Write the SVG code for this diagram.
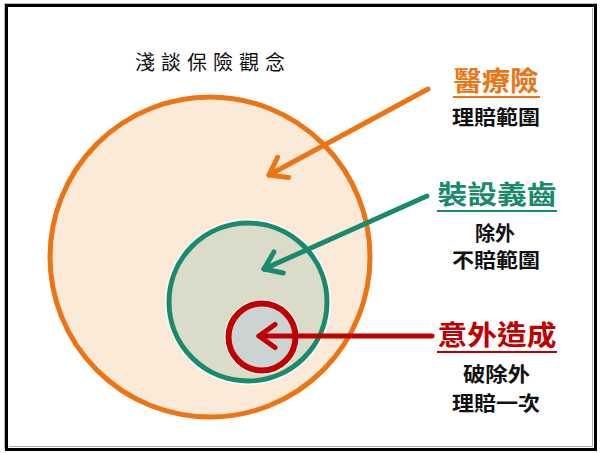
<svg xmlns="http://www.w3.org/2000/svg" width="600" height="453" viewBox="0 0 600 453">
<style>
.lbl{font-family:"Noto Sans CJK TC","Noto Sans CJK SC",sans-serif;font-weight:bold;text-anchor:middle}
.sub{font-size:20px;fill:#111}
.title{font-family:"Noto Sans CJK TC","Noto Sans CJK SC",sans-serif;font-size:20px;font-weight:400;fill:#111}
.halo{fill:none;stroke:#ffffff;stroke-width:8}
</style>
<defs>
<marker id="hO" markerUnits="userSpaceOnUse" viewBox="-22 -16 26 32" markerWidth="26" markerHeight="32" refX="0" refY="0" orient="auto" overflow="visible">
<path d="M-16,-11.5 L0,0 L-16,11.5" fill="none" stroke="#EC7414" stroke-width="5" stroke-linecap="round" stroke-linejoin="round"/>
</marker>
<marker id="hG" markerUnits="userSpaceOnUse" viewBox="-22 -16 26 32" markerWidth="26" markerHeight="32" refX="0" refY="0" orient="auto" overflow="visible">
<path d="M-16,-11.5 L0,0 L-16,11.5" fill="none" stroke="#1A8A6C" stroke-width="5" stroke-linecap="round" stroke-linejoin="round"/>
</marker>
<marker id="hR" markerUnits="userSpaceOnUse" viewBox="-22 -16 26 32" markerWidth="26" markerHeight="32" refX="0" refY="0" orient="auto" overflow="visible">
<path d="M-16,-11.5 L0,0 L-16,11.5" fill="none" stroke="#C00000" stroke-width="5" stroke-linecap="round" stroke-linejoin="round"/>
</marker>
</defs>
<rect x="0" y="0" width="600" height="453" fill="#ffffff"/>
<g id="frame">
<path d="M4.5,449 V3.5 H597" fill="none" stroke="#bbbbbb" stroke-width="1"/>
<rect x="6.5" y="5.5" width="589" height="444" fill="none" stroke="#000000" stroke-width="3"/>
<path d="M592.5,8 V446.5 H9" fill="none" stroke="#aaaaaa" stroke-width="1"/>
</g>
<g id="title"><text class="title" x="135" y="69.5" textLength="150" lengthAdjust="spacing">淺談保險觀念</text></g>
<g id="medical">
<circle class="halo" cx="210" cy="257" r="160"/>
<circle cx="210" cy="257" r="160" fill="#FCEAD9" stroke="#EC7414" stroke-width="5"/>
</g>
<g id="denture">
<circle class="halo" cx="248" cy="302" r="79"/>
<circle cx="248" cy="302" r="79" fill="#DBDBC9" stroke="#1A8A6C" stroke-width="5"/>
</g>
<g id="accident">
<circle class="halo" cx="262" cy="337" r="33.5"/>
<circle cx="262" cy="337" r="33.5" fill="#CBD3D3" stroke="#C00000" stroke-width="6"/>
</g>
<g id="connectors" fill="none" stroke-width="5" stroke-linecap="round">
<line x1="428" y1="89" x2="269" y2="175" stroke="#EC7414" marker-end="url(#hO)"/>
<line x1="427" y1="196" x2="264" y2="269" stroke="#1A8A6C" marker-end="url(#hG)"/>
<line x1="432" y1="336" x2="259" y2="336" stroke="#C00000" marker-end="url(#hR)"/>
</g>
<g id="label-medical">
<text class="lbl" x="496" y="91" font-size="27" fill="#EC7414" textLength="85" lengthAdjust="spacingAndGlyphs">醫療險</text>
<line x1="453" y1="97" x2="540" y2="97" stroke="#EC7414" stroke-width="2"/>
<text class="lbl sub" x="496" y="125" textLength="88" lengthAdjust="spacingAndGlyphs">理賠範圍</text>
</g>
<g id="label-denture">
<text class="lbl" x="497" y="203.5" font-size="26" fill="#1A8A6C" textLength="119" lengthAdjust="spacingAndGlyphs">裝設義齒</text>
<line x1="437" y1="211" x2="557" y2="211" stroke="#1A8A6C" stroke-width="2"/>
<text class="lbl sub" x="495" y="241" textLength="40" lengthAdjust="spacingAndGlyphs">除外</text>
<text class="lbl sub" x="496" y="268" textLength="88" lengthAdjust="spacingAndGlyphs">不賠範圍</text>
</g>
<g id="label-accident">
<text class="lbl" x="497" y="345" font-size="27" fill="#C00000" textLength="119" lengthAdjust="spacingAndGlyphs">意外造成</text>
<line x1="437" y1="352" x2="557" y2="352" stroke="#C00000" stroke-width="2"/>
<text class="lbl sub" x="496.5" y="382" textLength="67" lengthAdjust="spacingAndGlyphs">破除外</text>
<text class="lbl sub" x="496" y="410.5" textLength="88" lengthAdjust="spacingAndGlyphs">理賠一次</text>
</g>
</svg>
